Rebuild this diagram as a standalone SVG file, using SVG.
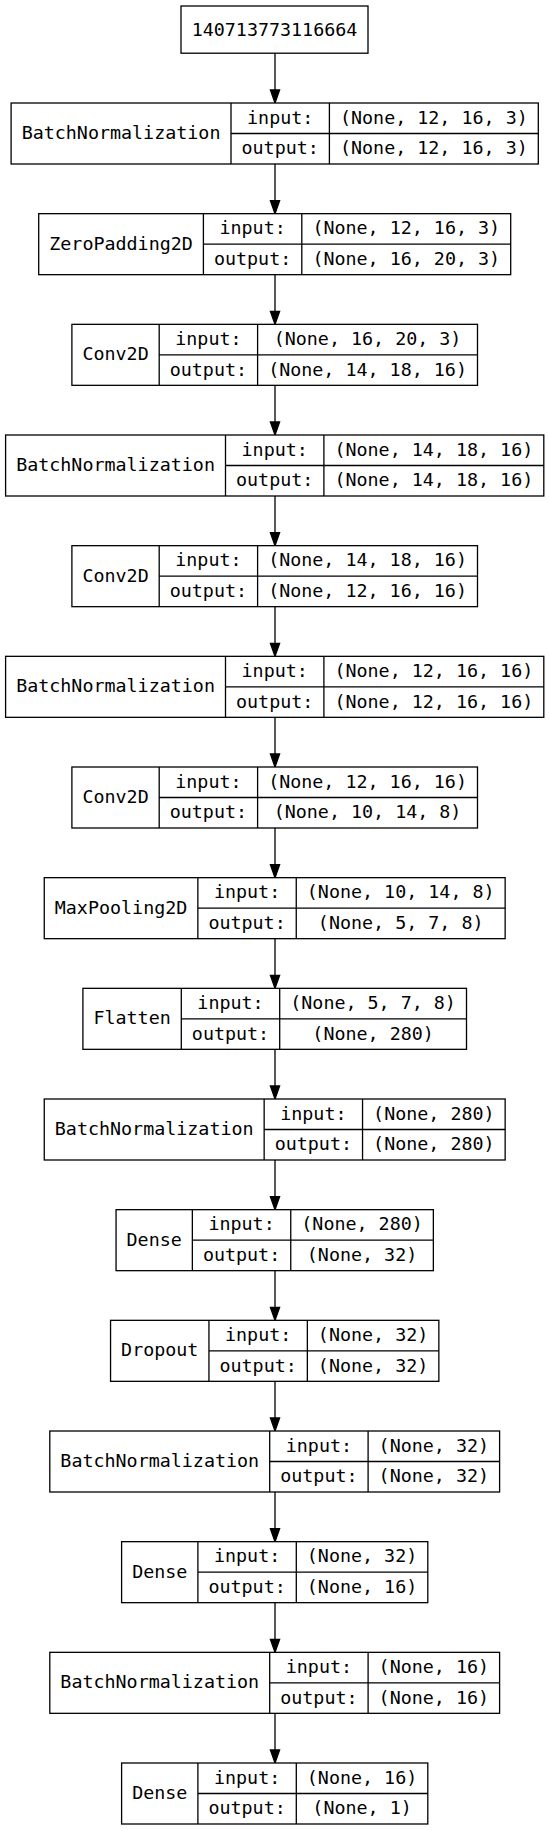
<svg xmlns="http://www.w3.org/2000/svg" width="549" height="1831" viewBox="0 0 549 1831">
<style>
.b{fill:#fff;stroke:#000;stroke-width:1.3}
.l{stroke:#000;stroke-width:1.3}
.t{font-family:"DejaVu Sans Mono","Liberation Mono",monospace;font-size:18.35px;fill:#000;text-anchor:middle}
.e{stroke:#000;stroke-width:1.3;fill:none}
.a{fill:#000;stroke:#000;stroke-width:1.3}
</style>
<rect x="0" y="0" width="549" height="1831" fill="#fff"/>
<g id="edges">
<path class="e" d="M275 53.2V90 M275 164V200.7 M275 274.7V311.3 M275 385.3V422 M275 496V532.7 M275 606.7V643.3 M275 717.3V754 M275 828V864.7 M275 938.7V975.3 M275 1049.3V1086 M275 1160V1196.7 M275 1270.7V1307.3 M275 1381.3V1418 M275 1492V1528.7 M275 1602.7V1639.3 M275 1713.3V1750"/>
<polygon class="a" points="275,103 270.4,90 279.6,90"/>
<polygon class="a" points="275,213.7 270.4,200.7 279.6,200.7"/>
<polygon class="a" points="275,324.3 270.4,311.3 279.6,311.3"/>
<polygon class="a" points="275,435 270.4,422 279.6,422"/>
<polygon class="a" points="275,545.7 270.4,532.7 279.6,532.7"/>
<polygon class="a" points="275,656.3 270.4,643.3 279.6,643.3"/>
<polygon class="a" points="275,767 270.4,754 279.6,754"/>
<polygon class="a" points="275,877.7 270.4,864.7 279.6,864.7"/>
<polygon class="a" points="275,988.3 270.4,975.3 279.6,975.3"/>
<polygon class="a" points="275,1099 270.4,1086 279.6,1086"/>
<polygon class="a" points="275,1209.7 270.4,1196.7 279.6,1196.7"/>
<polygon class="a" points="275,1320.3 270.4,1307.3 279.6,1307.3"/>
<polygon class="a" points="275,1431 270.4,1418 279.6,1418"/>
<polygon class="a" points="275,1541.7 270.4,1528.7 279.6,1528.7"/>
<polygon class="a" points="275,1652.3 270.4,1639.3 279.6,1639.3"/>
<polygon class="a" points="275,1763 270.4,1750 279.6,1750"/>
</g>
<g id="n0">
<rect class="b" x="181" y="6" width="187" height="47.2"/>
<text class="t" x="274.5" y="35.5">140713773116664</text>
</g>
<g id="n1" transform="translate(0,103)">
<rect class="b" x="11.1" y="0" width="527.2" height="61"/>
<path class="l" d="M231 0V61 M329.4 0V61 M231 30.5H538.3"/>
<text class="t" x="121.05" y="36">BatchNormalization</text>
<text class="t" x="280.2" y="20.75">input:</text>
<text class="t" x="280.2" y="51.25">output:</text>
<text class="t" x="433.85" y="20.75">(None, 12, 16, 3)</text>
<text class="t" x="433.85" y="51.25">(None, 12, 16, 3)</text>
</g>
<g id="n2" transform="translate(0,213.67)">
<rect class="b" x="38.7" y="0" width="472" height="61"/>
<path class="l" d="M203.4 0V61 M301.8 0V61 M203.4 30.5H510.7"/>
<text class="t" x="121.05" y="36">ZeroPadding2D</text>
<text class="t" x="252.6" y="20.75">input:</text>
<text class="t" x="252.6" y="51.25">output:</text>
<text class="t" x="406.25" y="20.75">(None, 12, 16, 3)</text>
<text class="t" x="406.25" y="51.25">(None, 16, 20, 3)</text>
</g>
<g id="n3" transform="translate(0,324.33)">
<rect class="b" x="71.9" y="0" width="405.6" height="61"/>
<path class="l" d="M159.2 0V61 M257.6 0V61 M159.2 30.5H477.5"/>
<text class="t" x="115.55" y="36">Conv2D</text>
<text class="t" x="208.4" y="20.75">input:</text>
<text class="t" x="208.4" y="51.25">output:</text>
<text class="t" x="367.55" y="20.75">(None, 16, 20, 3)</text>
<text class="t" x="367.55" y="51.25">(None, 14, 18, 16)</text>
</g>
<g id="n4" transform="translate(0,435)">
<rect class="b" x="5.6" y="0" width="538.2" height="61"/>
<path class="l" d="M225.5 0V61 M323.9 0V61 M225.5 30.5H543.8"/>
<text class="t" x="115.55" y="36">BatchNormalization</text>
<text class="t" x="274.7" y="20.75">input:</text>
<text class="t" x="274.7" y="51.25">output:</text>
<text class="t" x="433.85" y="20.75">(None, 14, 18, 16)</text>
<text class="t" x="433.85" y="51.25">(None, 14, 18, 16)</text>
</g>
<g id="n5" transform="translate(0,545.67)">
<rect class="b" x="71.9" y="0" width="405.6" height="61"/>
<path class="l" d="M159.2 0V61 M257.6 0V61 M159.2 30.5H477.5"/>
<text class="t" x="115.55" y="36">Conv2D</text>
<text class="t" x="208.4" y="20.75">input:</text>
<text class="t" x="208.4" y="51.25">output:</text>
<text class="t" x="367.55" y="20.75">(None, 14, 18, 16)</text>
<text class="t" x="367.55" y="51.25">(None, 12, 16, 16)</text>
</g>
<g id="n6" transform="translate(0,656.33)">
<rect class="b" x="5.6" y="0" width="538.2" height="61"/>
<path class="l" d="M225.5 0V61 M323.9 0V61 M225.5 30.5H543.8"/>
<text class="t" x="115.55" y="36">BatchNormalization</text>
<text class="t" x="274.7" y="20.75">input:</text>
<text class="t" x="274.7" y="51.25">output:</text>
<text class="t" x="433.85" y="20.75">(None, 12, 16, 16)</text>
<text class="t" x="433.85" y="51.25">(None, 12, 16, 16)</text>
</g>
<g id="n7" transform="translate(0,767)">
<rect class="b" x="71.9" y="0" width="405.6" height="61"/>
<path class="l" d="M159.2 0V61 M257.6 0V61 M159.2 30.5H477.5"/>
<text class="t" x="115.55" y="36">Conv2D</text>
<text class="t" x="208.4" y="20.75">input:</text>
<text class="t" x="208.4" y="51.25">output:</text>
<text class="t" x="367.55" y="20.75">(None, 12, 16, 16)</text>
<text class="t" x="367.55" y="51.25">(None, 10, 14, 8)</text>
</g>
<g id="n8" transform="translate(0,877.67)">
<rect class="b" x="44.25" y="0" width="460.9" height="61"/>
<path class="l" d="M197.85 0V61 M296.25 0V61 M197.85 30.5H505.15"/>
<text class="t" x="121.05" y="36">MaxPooling2D</text>
<text class="t" x="247.05" y="20.75">input:</text>
<text class="t" x="247.05" y="51.25">output:</text>
<text class="t" x="400.7" y="20.75">(None, 10, 14, 8)</text>
<text class="t" x="400.7" y="51.25">(None, 5, 7, 8)</text>
</g>
<g id="n9" transform="translate(0,988.33)">
<rect class="b" x="82.9" y="0" width="383.6" height="61"/>
<path class="l" d="M181.3 0V61 M279.7 0V61 M181.3 30.5H466.5"/>
<text class="t" x="132.1" y="36">Flatten</text>
<text class="t" x="230.5" y="20.75">input:</text>
<text class="t" x="230.5" y="51.25">output:</text>
<text class="t" x="373.1" y="20.75">(None, 5, 7, 8)</text>
<text class="t" x="373.1" y="51.25">(None, 280)</text>
</g>
<g id="n10" transform="translate(0,1099)">
<rect class="b" x="44.25" y="0" width="460.9" height="61"/>
<path class="l" d="M264.15 0V61 M362.55 0V61 M264.15 30.5H505.15"/>
<text class="t" x="154.2" y="36">BatchNormalization</text>
<text class="t" x="313.35" y="20.75">input:</text>
<text class="t" x="313.35" y="51.25">output:</text>
<text class="t" x="433.85" y="20.75">(None, 280)</text>
<text class="t" x="433.85" y="51.25">(None, 280)</text>
</g>
<g id="n11" transform="translate(0,1209.67)">
<rect class="b" x="116.05" y="0" width="317.3" height="61"/>
<path class="l" d="M192.35 0V61 M290.75 0V61 M192.35 30.5H433.35"/>
<text class="t" x="154.2" y="36">Dense</text>
<text class="t" x="241.55" y="20.75">input:</text>
<text class="t" x="241.55" y="51.25">output:</text>
<text class="t" x="362.05" y="20.75">(None, 280)</text>
<text class="t" x="362.05" y="51.25">(None, 32)</text>
</g>
<g id="n12" transform="translate(0,1320.33)">
<rect class="b" x="110.55" y="0" width="328.3" height="61"/>
<path class="l" d="M208.95 0V61 M307.35 0V61 M208.95 30.5H438.85"/>
<text class="t" x="159.75" y="36">Dropout</text>
<text class="t" x="258.15" y="20.75">input:</text>
<text class="t" x="258.15" y="51.25">output:</text>
<text class="t" x="373.1" y="20.75">(None, 32)</text>
<text class="t" x="373.1" y="51.25">(None, 32)</text>
</g>
<g id="n13" transform="translate(0,1431)">
<rect class="b" x="49.8" y="0" width="449.8" height="61"/>
<path class="l" d="M269.7 0V61 M368.1 0V61 M269.7 30.5H499.6"/>
<text class="t" x="159.75" y="36">BatchNormalization</text>
<text class="t" x="318.9" y="20.75">input:</text>
<text class="t" x="318.9" y="51.25">output:</text>
<text class="t" x="433.85" y="20.75">(None, 32)</text>
<text class="t" x="433.85" y="51.25">(None, 32)</text>
</g>
<g id="n14" transform="translate(0,1541.67)">
<rect class="b" x="121.6" y="0" width="306.2" height="61"/>
<path class="l" d="M197.9 0V61 M296.3 0V61 M197.9 30.5H427.8"/>
<text class="t" x="159.75" y="36">Dense</text>
<text class="t" x="247.1" y="20.75">input:</text>
<text class="t" x="247.1" y="51.25">output:</text>
<text class="t" x="362.05" y="20.75">(None, 32)</text>
<text class="t" x="362.05" y="51.25">(None, 16)</text>
</g>
<g id="n15" transform="translate(0,1652.33)">
<rect class="b" x="49.8" y="0" width="449.8" height="61"/>
<path class="l" d="M269.7 0V61 M368.1 0V61 M269.7 30.5H499.6"/>
<text class="t" x="159.75" y="36">BatchNormalization</text>
<text class="t" x="318.9" y="20.75">input:</text>
<text class="t" x="318.9" y="51.25">output:</text>
<text class="t" x="433.85" y="20.75">(None, 16)</text>
<text class="t" x="433.85" y="51.25">(None, 16)</text>
</g>
<g id="n16" transform="translate(0,1763)">
<rect class="b" x="121.6" y="0" width="306.2" height="61"/>
<path class="l" d="M197.9 0V61 M296.3 0V61 M197.9 30.5H427.8"/>
<text class="t" x="159.75" y="36">Dense</text>
<text class="t" x="247.1" y="20.75">input:</text>
<text class="t" x="247.1" y="51.25">output:</text>
<text class="t" x="362.05" y="20.75">(None, 16)</text>
<text class="t" x="362.05" y="51.25">(None, 1)</text>
</g>
</svg>
